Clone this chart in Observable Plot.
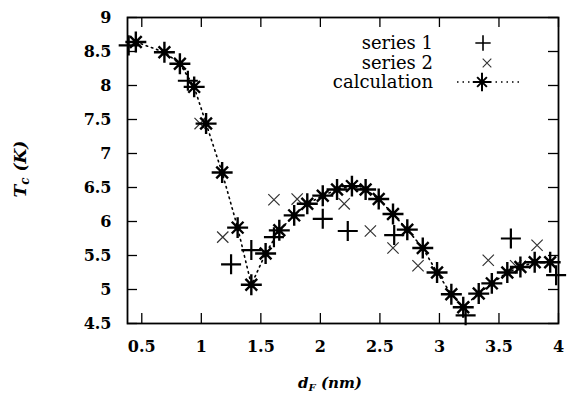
<!DOCTYPE html>
<html><head><meta charset="utf-8">
<script src="https://cdn.jsdelivr.net/npm/d3@7"></script>
<script src="https://cdn.jsdelivr.net/npm/@observablehq/plot@0.6"></script>
<style>
html,body{margin:0;padding:0;background:#fff;}
#chart{width:570px;height:400px;}
</style></head><body><div id="chart"></div>
<script>
// calculation (asterisks joined by a dotted line)
const calcX = [0.45, 0.69, 0.82, 0.94, 1.04, 1.175, 1.305, 1.42, 1.54, 1.655, 1.78, 1.89, 2.02, 2.14, 2.265, 2.38, 2.49, 2.61, 2.73, 2.86, 2.98, 3.10, 3.20, 3.33, 3.44, 3.57, 3.68, 3.80, 3.93];
const calcY = [8.64, 8.49, 8.32, 7.98, 7.44, 6.72, 5.91, 5.07, 5.53, 5.87, 6.09, 6.26, 6.38, 6.47, 6.52, 6.47, 6.33, 6.11, 5.88, 5.61, 5.25, 4.93, 4.74, 4.94, 5.09, 5.25, 5.33, 5.40, 5.40];
// series 1 (+)
const s1X = [0.39, 0.887, 1.25, 1.42, 1.61, 2.02, 2.23, 2.62, 3.22, 3.60, 3.98];
const s1Y = [8.59, 8.07, 5.37, 5.58, 5.77, 6.04, 5.86, 5.80, 4.62, 5.75, 5.21];
// series 2 (x)
const s2X = [0.99, 1.18, 1.61, 1.805, 2.20, 2.42, 2.61, 2.82, 3.41, 3.64, 3.82];
const s2Y = [7.44, 5.77, 6.32, 6.33, 6.26, 5.86, 5.61, 5.35, 5.43, 5.35, 5.65];

const xTicks = [0.5, 1, 1.5, 2, 2.5, 3, 3.5, 4];
const xTickLabels = ["0.5", "1", "1.5", "2", "2.5", "3", "3.5", "4"];
const yTicks = [4.5, 5, 5.5, 6, 6.5, 7, 7.5, 8, 8.5, 9];
const yTickLabels = ["4.5", "5", "5.5", "6", "6.5", "7", "7.5", "8", "8.5", "9"];
const seriesNames = ["series 1", "series 2", "calculation"];

const calc = calcX.map((x, i) => ({x, y: calcY[i]}));
const s1 = s1X.map((x, i) => ({x, y: s1Y[i]}));
const s2 = s2X.map((x, i) => ({x, y: s2Y[i]}));

const W = 570, H = 400, mL = 127, mR = 12, mT = 17, mB = 77;
const pw = W - mL - mR, ph = H - mT - mB, tk = 10;

const plot = Plot.plot({
  width: W, height: H,
  marginLeft: mL, marginRight: mR, marginTop: mT, marginBottom: mB,
  x: {domain: [0.38, 4]},
  y: {domain: [4.5, 9]},
  style: {fontFamily: "DejaVu Serif", fontSize: "16px", fontWeight: "bold", background: "white", color: "black", overflow: "visible"},
  marks: [
    Plot.axisX(xTicks, {anchor: "bottom", tickSize: 0, tickPadding: 17, tickFormat: d => xTickLabels[xTicks.indexOf(d)], label: null}),
    Plot.axisY(yTicks, {anchor: "left", tickSize: 0, tickPadding: 16, tickFormat: d => yTickLabels[yTicks.indexOf(d)], label: null}),
    Plot.tickX(xTicks, {x: d => d, insetTop: ph - tk, strokeWidth: 1.3}),
    Plot.tickX(xTicks, {x: d => d, insetBottom: ph - tk, strokeWidth: 1.3}),
    Plot.tickY(yTicks, {y: d => d, insetRight: pw - tk, strokeWidth: 1.3}),
    Plot.tickY(yTicks, {y: d => d, insetLeft: pw - tk, strokeWidth: 1.3}),
    Plot.frame({stroke: "black", strokeWidth: 1.8}),
    Plot.line(calc, {x: "x", y: "y", stroke: "black", strokeWidth: 1.6, strokeDasharray: "1.5,4"}),
    Plot.dot(s2, {x: "x", y: "y", symbol: "times", r: 5.2, stroke: "#333", strokeWidth: 1.2}),
    Plot.dot(s1, {x: "x", y: "y", symbol: "plus", r: 6.5, stroke: "black", strokeWidth: 2.2}),
    Plot.dot(calc, {x: "x", y: "y", symbol: "plus", r: 6.8, stroke: "black", strokeWidth: 2.4}),
    Plot.dot(calc, {x: "x", y: "y", symbol: "times", r: 5.4, stroke: "black", strokeWidth: 2.4}),
    Plot.dot(calc, {x: "x", y: "y", r: 3.2, fill: "black", stroke: "none"})
  ]
});

document.getElementById("chart").appendChild(plot);
const svg = d3.select(plot);

// axis titles
const xt = svg.append("text").attr("x", 330).attr("y", 388)
  .attr("text-anchor", "middle").attr("font-family", "DejaVu Serif")
  .attr("font-size", 15).attr("font-weight", "bold").attr("font-style", "italic");
xt.append("tspan").text("d");
xt.append("tspan").attr("font-size", 10).attr("dy", 3).text("F");
xt.append("tspan").attr("dy", -3).text(" (nm)");

const yt = svg.append("text").attr("transform", "translate(26,169) rotate(-90)")
  .attr("text-anchor", "middle").attr("font-family", "DejaVu Serif")
  .attr("font-size", 17).attr("font-weight", "bold").attr("font-style", "italic");
yt.append("tspan").text("T");
yt.append("tspan").attr("font-size", 12).attr("dy", 3).text("c");
yt.append("tspan").attr("dy", -3).text(" (K)");

// legend
const lg = svg.append("g").attr("font-family", "DejaVu Serif").attr("font-size", 18).attr("font-weight", "normal").attr("fill", "black");
const rowsY = [43, 63, 82];
seriesNames.forEach((n, i) => {
  lg.append("text").attr("x", 433).attr("y", rowsY[i]).attr("dy", "0.35em")
    .attr("text-anchor", "end").attr("font-weight", "normal").text(n);
});
const sym = (type, r) => d3.symbol(type, Math.pow(r, 2) * Math.PI)();
lg.append("path").attr("transform", `translate(483,${rowsY[0]})`).attr("d", sym(d3.symbolPlus, 5)).attr("stroke", "black").attr("stroke-width", 1.6).attr("fill", "none");
lg.append("path").attr("transform", `translate(487,${rowsY[1]})`).attr("d", sym(d3.symbolTimes, 4)).attr("stroke", "#333").attr("stroke-width", 1.1).attr("fill", "none");
lg.append("line").attr("x1", 457).attr("x2", 522).attr("y1", rowsY[2]).attr("y2", rowsY[2]).attr("stroke", "black").attr("stroke-width", 1.6).attr("stroke-dasharray", "1.5,4");
lg.append("path").attr("transform", `translate(482,${rowsY[2]})`).attr("d", sym(d3.symbolPlus, 6)).attr("stroke", "black").attr("stroke-width", 2).attr("fill", "none");
lg.append("path").attr("transform", `translate(482,${rowsY[2]})`).attr("d", sym(d3.symbolTimes, 4.5)).attr("stroke", "black").attr("stroke-width", 2).attr("fill", "none");
</script>
</body></html>
